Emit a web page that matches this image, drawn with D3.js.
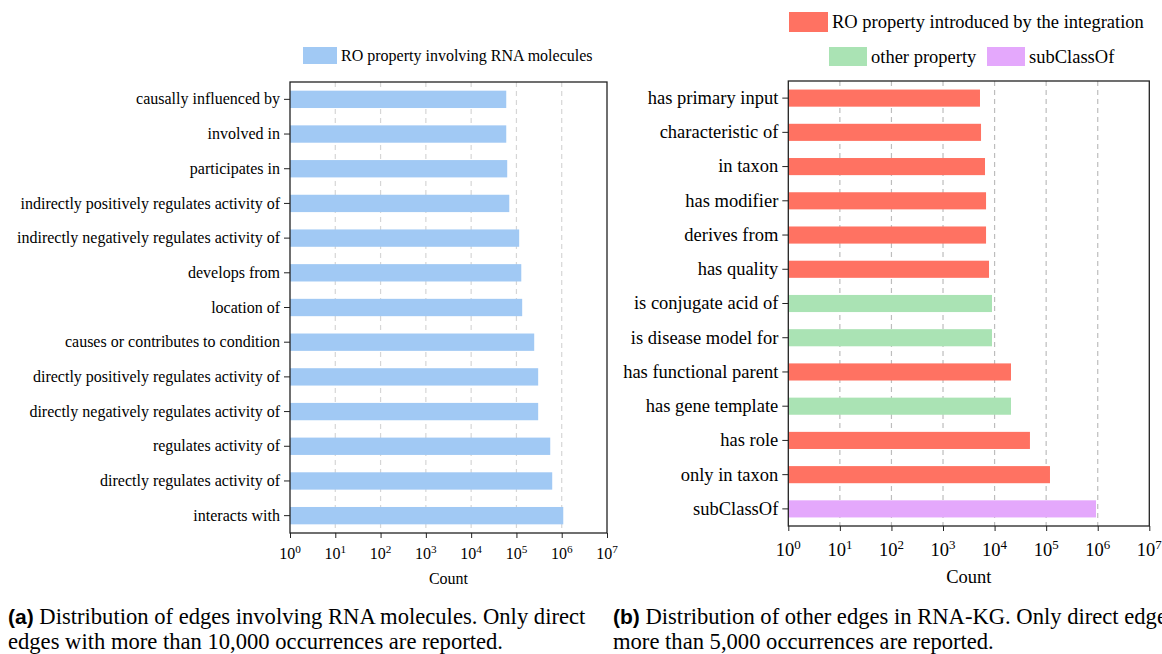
<!DOCTYPE html>
<html><head><meta charset="utf-8">
<script src="https://cdn.jsdelivr.net/npm/d3@7/dist/d3.min.js"></script>
<style>body{margin:0;background:#fff}svg{display:block}</style>
</head><body>
<svg id="c" width="1162" height="654"></svg>
<script>
// Left panel data (top to bottom)
const leftCategories = ["causally influenced by","involved in","participates in","indirectly positively regulates activity of","indirectly negatively regulates activity of","develops from","location of","causes or contributes to condition","directly positively regulates activity of","directly negatively regulates activity of","regulates activity of","directly regulates activity of","interacts with"];
const leftValues = [59600,59600,62600,69500,115000,128000,134000,247000,302000,302000,558000,617000,1082000];
const leftLegend = ["RO property involving RNA molecules"];

// Right panel data (top to bottom)
const rightCategories = ["has primary input","characteristic of","in taxon","has modifier","derives from","has quality","is conjugate acid of","is disease model for","has functional parent","has gene template","has role","only in taxon","subClassOf"];
const rightValues = [5210,5460,6520,6830,6830,7800,8900,8900,20800,20800,48500,118600,925000];
const rightTypes = ["ro","ro","ro","ro","ro","ro","other","other","ro","other","ro","ro","sub"];
const rightLegend = ["RO property introduced by the integration","other property","subClassOf"];

const tickExponents = [0,1,2,3,4,5,6,7];
const captionA = ["(a)"," Distribution of edges involving RNA molecules. Only direct","edges with more than 10,000 occurrences are reported."];
const captionB = ["(b)"," Distribution of other edges in RNA-KG. Only direct edges with","more than 5,000 occurrences are reported."];

const colors = {blue:"#a1c9f4", ro:"#ff7262", other:"#aae3b4", sub:"#e4a8fc"};
const serif = "'Liberation Serif','Times New Roman',serif";
const sans = "'Liberation Sans',Arial,sans-serif";

const svg = d3.select("#c");
svg.append("rect").attr("width",1162).attr("height",654).attr("fill","#fff");

function panel(cfg){
  const g = svg.append("g");
  const x = d3.scaleLog().domain([1,1e7]).range([cfg.x0,cfg.x1]);
  const y = d3.scaleBand().domain(cfg.cats).range([cfg.y0,cfg.y1]).paddingInner(0.5).paddingOuter(0.25);
  // grid
  g.selectAll("line.grid").data(tickExponents.slice(1,7)).join("line")
    .attr("x1",d=>x(Math.pow(10,d))).attr("x2",d=>x(Math.pow(10,d)))
    .attr("y1",cfg.y0).attr("y2",cfg.y1)
    .attr("stroke",cfg.gridColor).attr("stroke-width",1.2).attr("stroke-dasharray","5,4");
  // bars
  g.selectAll("rect.bar").data(cfg.cats).join("rect")
    .attr("x",x(1)).attr("y",d=>y(d))
    .attr("width",(d,i)=>x(cfg.vals[i])-x(1)).attr("height",y.bandwidth())
    .attr("fill",(d,i)=>cfg.color(i));
  // frame
  g.append("rect").attr("x",cfg.x0).attr("y",cfg.y0).attr("width",cfg.x1-cfg.x0).attr("height",cfg.y1-cfg.y0)
    .attr("fill","none").attr("stroke","#222").attr("stroke-width",1.3);
  // y axis
  const ya = d3.axisLeft(y).tickSize(6).tickPadding(4);
  const yg = g.append("g").attr("transform",`translate(${cfg.x0},0)`).call(ya);
  yg.select(".domain").remove();
  yg.selectAll("text").attr("font-family",serif).attr("font-size",cfg.fs).attr("fill","#000");
  yg.selectAll("line").attr("stroke","#222");
  // x axis
  const xa = d3.axisBottom(x).tickValues(tickExponents.map(e=>Math.pow(10,e))).tickSize(5).tickFormat("");
  const xg = g.append("g").attr("transform",`translate(0,${cfg.y1})`).call(xa);
  xg.select(".domain").remove();
  xg.selectAll("line").attr("stroke","#222");
  const lab = g.selectAll("text.xt").data(tickExponents).join("text")
    .attr("x",d=>x(Math.pow(10,d))).attr("y",cfg.y1+cfg.tickDy)
    .attr("text-anchor","middle").attr("font-family",serif).attr("font-size",cfg.fs).attr("fill","#000");
  lab.append("tspan").text("10");
  lab.append("tspan").attr("dy",-cfg.fs*0.4).attr("font-size",cfg.fs*0.7).text(d=>d);
  g.append("text").attr("x",(cfg.x0+cfg.x1)/2).attr("y",cfg.y1+cfg.countDy).attr("text-anchor","middle")
    .attr("font-family",serif).attr("font-size",cfg.fs).text("Count");
  return g;
}

panel({x0:290,x1:607,y0:82,y1:533,cats:leftCategories,vals:leftValues,color:()=>colors.blue,fs:16,gridColor:"#d6d6d6",tickDy:26,countDy:51});
panel({x0:788.3,x1:1149.3,y0:81,y1:526,cats:rightCategories,vals:rightValues,color:i=>colors[rightTypes[i]],fs:18.5,gridColor:"#bdbdbd",tickDy:30,countDy:57});

// legends
function legItem(x,y,w,h,color,text,fs){
  svg.append("rect").attr("x",x).attr("y",y).attr("width",w).attr("height",h).attr("fill",color);
  svg.append("text").attr("x",x+w+4).attr("y",y+h/2).attr("dy","0.35em").attr("font-family",serif).attr("font-size",fs).text(text);
}
legItem(303,47,34,17,colors.blue,leftLegend[0],16);
legItem(789,12,39,20,colors.ro,rightLegend[0],18.5);
legItem(829,47,38,19,colors.other,rightLegend[1],18.5);
legItem(987,47,38,19,colors.sub,rightLegend[2],18.5);

// captions
function caption(x,lines){
  const t = svg.append("text").attr("x",x).attr("y",624).attr("font-family",serif).attr("font-size",22.6);
  t.append("tspan").attr("font-family",sans).attr("font-weight","bold").attr("font-size",21).text(lines[0]);
  t.append("tspan").text(lines[1]);
  svg.append("text").attr("x",x).attr("y",649).attr("font-family",serif).attr("font-size",22.6).text(lines[2]);
}
caption(8,captionA);
caption(613,captionB);
</script>
</body></html>
